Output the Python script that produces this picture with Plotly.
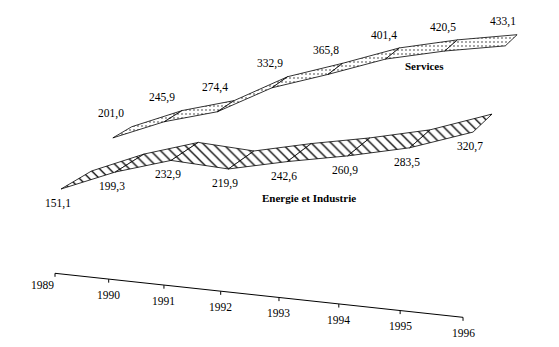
import plotly.graph_objects as go

# ---------------- data ----------------
years = ["1989", "1990", "1991", "1992", "1993", "1994", "1995", "1996"]
energie = [151.1, 199.3, 232.9, 219.9, 242.6, 260.9, 283.5, 320.7]
services = [201.0, 245.9, 274.4, 332.9, 365.8, 401.4, 420.5, 433.1]
series_names = ["Energie et Industrie", "Services"]

W, H = 559, 347

# ---------------- 3-D projection (perspective-like) ----------------
ORIGIN = (55.0, 273.3)      # axis start on screen
STEP = (52.94, 5.8)         # per-category step along the axis
GROW = (0.764, 0.07)        # perspective growth of the step
MEAN_STEP = 58.3
V0 = -53.6                  # value at the floor line
K = 0.4534                  # pixels per value unit (scaled by perspective)
DEPTH_L = (30.5, -18.0)     # depth vector (unit depth) at the left
DEPTH_R = (19.0, -18.0)     # depth vector at the right
SHIFT_L, SHIFT_R = 6.0, 10.0
N = len(years) - 1


def base(i):
    return (ORIGIN[0] + STEP[0] * i + GROW[0] * i * i,
            ORIGIN[1] + STEP[1] * i + GROW[1] * i * i)


def proj(i, v, z):
    t = i / N
    bx, by = base(i)
    s = (STEP[0] + 2 * GROW[0] * i) / MEAN_STEP
    dx = DEPTH_L[0] + (DEPTH_R[0] - DEPTH_L[0]) * t
    dy = DEPTH_L[1] + (DEPTH_R[1] - DEPTH_L[1]) * t
    sh = SHIFT_L + (SHIFT_R - SHIFT_L) * t
    x = bx + sh + dx * z
    y = by - K * s * (v - V0) + dy * z
    return x, y


fig = go.Figure()

HATCH = dict(shape="\\", size=7, solidity=0.18, fgcolor="black", bgcolor="white", fillmode="replace")
DOTS = dict(shape=".", size=4, solidity=0.08, fgcolor="black", bgcolor="white", fillmode="replace")


def ribbon(values, z_front, z_back, pattern):
    for i in range(len(values) - 1):
        f0 = proj(i, values[i], z_front)
        f1 = proj(i + 1, values[i + 1], z_front)
        b1 = proj(i + 1, values[i + 1], z_back)
        b0 = proj(i, values[i], z_back)
        xs = [f0[0], f1[0], b1[0], b0[0], f0[0]]
        ys = [f0[1], f1[1], b1[1], b0[1], f0[1]]
        fig.add_trace(go.Scatter(
            x=xs, y=ys, mode="lines", fill="toself",
            fillcolor="white", fillpattern=pattern,
            line=dict(color="black", width=0.8),
            hoverinfo="skip", showlegend=False))


# Services row behind, Energie row in front
ribbon(services, 1.7, 2.32, DOTS)
ribbon(energie, 0.0, 1.0, HATCH)

FONT = dict(family="Liberation Serif", size=11.5, color="black")
BFONT = dict(family="Liberation Serif", size=11, color="black")


def fmt(v):
    return f"{v:.1f}".replace(".", ",")


annotations = []
for i, v in enumerate(energie):
    x, y = proj(i, v, 0.0)
    annotations.append(dict(x=x - 3, y=y + 14.5, text=fmt(v), showarrow=False,
                            xanchor="center", yanchor="middle", font=FONT))
for i, v in enumerate(services):
    x, y = proj(i, v, 1.7)
    annotations.append(dict(x=x - 2, y=y - 24, text=fmt(v), showarrow=False,
                            xanchor="center", yanchor="middle", font=FONT))

# series names
xe, ye = proj(4.3, energie[4], 0.0)
annotations.append(dict(x=xe + 4, y=ye + 36, text="<b>" + series_names[0] + "</b>",
                        showarrow=False, xanchor="center", yanchor="middle", font=BFONT))
xs_, ys_ = proj(5.5, services[5], 1.7)
annotations.append(dict(x=xs_ + 10, y=ys_ + 6, text="<b>" + series_names[1] + "</b>",
                        showarrow=False, xanchor="center", yanchor="middle", font=BFONT))

# category axis (slanted)
ax_x = [base(i)[0] for i in range(len(years))]
ax_y = [base(i)[1] for i in range(len(years))]
fig.add_trace(go.Scatter(x=ax_x, y=ax_y, mode="lines", line=dict(color="black", width=1),
                         hoverinfo="skip", showlegend=False))
for i, yr in enumerate(years):
    bx, by = base(i)
    fig.add_trace(go.Scatter(x=[bx, bx], y=[by, by + 3.5], mode="lines",
                             line=dict(color="black", width=1),
                             hoverinfo="skip", showlegend=False))
    lx = bx - 13 if i == 0 else bx
    ly = by + 12 if i == 0 else by + 15.5
    annotations.append(dict(x=lx, y=ly, text=yr, showarrow=False, xanchor="center",
                            yanchor="middle", font=FONT))

fig.update_layout(
    width=W, height=H,
    margin=dict(l=0, r=0, t=0, b=0),
    paper_bgcolor="white", plot_bgcolor="white",
    xaxis=dict(range=[0, W], visible=False, fixedrange=True),
    yaxis=dict(range=[H, 0], visible=False, fixedrange=True),
    annotations=annotations,
    showlegend=False,
)

fig.write_html("out.html")
